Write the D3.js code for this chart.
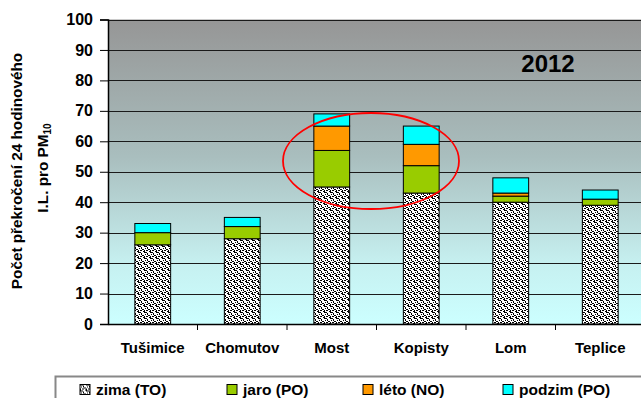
<!DOCTYPE html>
<html>
<head>
<meta charset="utf-8">
<script src="https://cdn.jsdelivr.net/npm/d3@7"></script>
<style>
  html, body { margin: 0; padding: 0; background: #fff; }
  svg { display: block; font-family: Arial, "Liberation Sans", sans-serif; }
</style>
</head>
<body>
<svg id="chart" width="641" height="398"></svg>
<script>
// Stations and seasonal counts of PM10 24h limit exceedances, 2012
const stations = ["Tušimice", "Chomutov", "Most", "Kopisty", "Lom", "Teplice"];
const zima   = [26, 28, 45, 43, 40, 39];
const jaro   = [4, 4, 12, 9, 2, 2];
const leto   = [0, 0, 8, 7, 1, 0];
const podzim = [3, 3, 4, 6, 5, 3];
const seriesNames = ["zima (TO)", "jaro (PO)", "léto (NO)", "podzim (PO)"];
const yTicks = [0, 10, 20, 30, 40, 50, 60, 70, 80, 90, 100];
const yearLabel = "2012";

const seriesColors = ["url(#dots)", "#99cc00", "#ff9900", "#00ffff"];
const FONT = "Arial, 'Liberation Sans', sans-serif";

const rows = stations.map((s, i) => ({
  station: s, s0: zima[i], s1: jaro[i], s2: leto[i], s3: podzim[i]
}));
const keys = ["s0", "s1", "s2", "s3"];
const stacked = d3.stack().keys(keys)(rows);

const svg = d3.select("#chart");
const plot = { left: 108, top: 19.5, right: 645, bottom: 324 };

const x = d3.scaleBand().domain(stations).range([plot.left, plot.right]).paddingInner(0.6).paddingOuter(0.3);
const xTickScale = d3.scaleBand().domain(stations).range([plot.left, plot.right]);
const y = d3.scaleLinear().domain([0, 100]).range([plot.bottom, plot.top]);

const defs = svg.append("defs");
const grad = defs.append("linearGradient").attr("id", "bg").attr("x1", 0).attr("y1", 0).attr("x2", 0).attr("y2", 1);
grad.append("stop").attr("offset", "0%").attr("stop-color", "#969696");
grad.append("stop").attr("offset", "45%").attr("stop-color", "#a9bebe");
grad.append("stop").attr("offset", "80%").attr("stop-color", "#c6f0f0");
grad.append("stop").attr("offset", "100%").attr("stop-color", "#ccffff");

// speckled fill for the winter segment
const pat = defs.append("pattern").attr("id", "dots").attr("patternUnits", "userSpaceOnUse")
  .attr("width", 6).attr("height", 6);
pat.append("rect").attr("width", 6).attr("height", 6).attr("fill", "#fff");
const specks = [[0,0,2,1],[3,1,1,2],[1,2,1,1],[4,3,2,1],[0,4,1,2],[2,4,2,1],[5,5,1,1],[2,0,1,1]];
specks.forEach(([a, b, w, h]) => pat.append("rect").attr("x", a).attr("y", b).attr("width", w).attr("height", h).attr("fill", "#000"));

// plot background
svg.append("rect").attr("x", plot.left).attr("y", plot.top)
  .attr("width", plot.right - plot.left).attr("height", plot.bottom - plot.top)
  .attr("fill", "url(#bg)");

// gridlines
svg.append("g").selectAll("line").data(yTicks.filter(t => t > 0)).join("line")
  .attr("x1", plot.left).attr("x2", plot.right)
  .attr("y1", d => Math.round(y(d)) + 0.5).attr("y2", d => Math.round(y(d)) + 0.5)
  .attr("stroke", "#1a1a1a").attr("stroke-width", 1);

// stacked bars
svg.append("g").selectAll("g").data(stacked).join("g")
  .attr("fill", (d, i) => seriesColors[i])
  .selectAll("rect").data(d => d.filter(p => p[1] - p[0] > 0)).join("rect")
  .attr("x", d => x(d.data.station))
  .attr("y", d => y(d[1]))
  .attr("width", x.bandwidth())
  .attr("height", d => y(d[0]) - y(d[1]))
  .attr("stroke", "#000").attr("stroke-width", 1);

// y axis
const yAxis = d3.axisLeft(y).tickValues(yTicks).tickSize(8).tickPadding(7);
const gy = svg.append("g").attr("transform", `translate(${plot.left},0)`).call(yAxis);
gy.select(".domain").attr("stroke", "#000").attr("stroke-width", 1.5);
gy.selectAll(".tick line").attr("stroke", "#000");
gy.selectAll("text").attr("font-size", 16).attr("font-weight", "bold").attr("fill", "#000")
  .attr("font-family", FONT);

// x axis
const xAxis = d3.axisBottom(xTickScale).tickSize(0).tickPadding(0);
const gx = svg.append("g").attr("transform", `translate(0,${plot.bottom})`).call(xAxis);
gx.select(".domain").attr("stroke", "#000").attr("stroke-width", 1.5);
gx.selectAll("text").attr("font-size", 15).attr("font-weight", "bold").attr("fill", "#000")
  .attr("font-family", FONT).attr("dy", null).attr("y", 29);
// category separators
svg.append("g").selectAll("line").data(stations.slice(1)).join("line")
  .attr("x1", d => xTickScale(d)).attr("x2", d => xTickScale(d))
  .attr("y1", plot.bottom).attr("y2", plot.bottom + 6)
  .attr("stroke", "#000");

// y axis title
svg.append("text").attr("transform", "translate(17,171) rotate(-90)")
  .attr("text-anchor", "middle").attr("font-size", 15.3).attr("font-weight", "bold")
  .attr("dy", "0.35em").text("Počet překročení 24 hodinového");
const yt2 = svg.append("text").attr("transform", "translate(43,168) rotate(-90)")
  .attr("text-anchor", "middle").attr("font-size", 15.3).attr("font-weight", "bold");
yt2.append("tspan").attr("dy", "0.35em").text("I.L. pro PM");
yt2.append("tspan").attr("font-size", 10).attr("dy", "3").text("10");

// year label
svg.append("text").attr("x", 548).attr("y", 72).attr("text-anchor", "middle")
  .attr("font-size", 24).attr("font-weight", "bold").text(yearLabel);

// highlight ellipse around Most and Kopisty
svg.append("ellipse").attr("cx", 371).attr("cy", 161).attr("rx", 88).attr("ry", 48)
  .attr("fill", "none").attr("stroke", "#ff0000").attr("stroke-width", 1.8);

// legend
svg.append("rect").attr("x", 55.5).attr("y", 376.5).attr("width", 600).attr("height", 40)
  .attr("fill", "#fff").attr("stroke", "#888").attr("stroke-width", 2);
const legendX = [80, 227, 363, 503];
const lg = svg.append("g").selectAll("g").data(seriesNames).join("g")
  .attr("transform", (d, i) => `translate(${legendX[i]},384.5)`);
lg.append("rect").attr("width", 10).attr("height", 10)
  .attr("fill", (d, i) => seriesColors[i]).attr("stroke", "#000").attr("stroke-width", 1);
lg.append("text").attr("x", 16).attr("y", 10).attr("font-size", 15.5).attr("font-weight", "bold")
  .text(d => d);
</script>
</body>
</html>
